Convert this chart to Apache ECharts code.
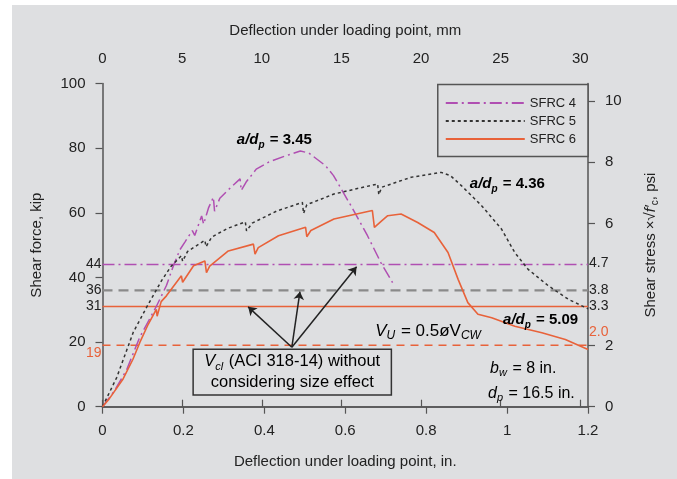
<!DOCTYPE html>
<html>
<head>
<meta charset="utf-8">
<script src="https://cdn.jsdelivr.net/npm/echarts@6/dist/echarts.min.js"></script>
<style>
  html, body { margin: 0; padding: 0; background: #fff; }
  #bg { position: absolute; left: 12px; top: 5px; right: 0; bottom: 0; background: #dedfe1; }
  #chart { position: absolute; left: 0; top: 0; width: 677px; height: 479px; }
</style>
</head>
<body>
<div id="bg"></div>
<div id="chart"></div>
<script>
// load-deflection curves, [deflection in., shear kip]
const sfrc4 = [[0,0],[0.03,5],[0.06,11.5],[0.092,21.5],[0.133,31],[0.158,37.5],[0.175,43.5],[0.191,48.5],[0.204,51],
  [0.222,54.5],[0.228,53],[0.245,59],[0.25,56.5],[0.262,61.5],[0.274,64.8],[0.277,60.5],[0.29,64.5],[0.31,67],
  [0.34,70.5],[0.343,66.9],[0.355,69.5],[0.38,73.5],[0.411,75.7],[0.45,77.5],[0.489,79.1],[0.51,78.5],[0.551,74.6],
  [0.571,71.5],[0.614,62.2],[0.655,52.9],[0.688,44.6],[0.717,38.4]];
const sfrc5 = [[0,0],[0.035,9],[0.076,23],[0.11,31],[0.146,39],[0.17,43.5],[0.195,46.7],[0.198,45],[0.21,48],
  [0.253,51.5],[0.256,49.5],[0.27,52.5],[0.31,55.2],[0.353,57.2],[0.356,54.4],[0.37,56.8],[0.43,60.5],[0.494,63.2],
  [0.497,59.8],[0.505,62.5],[0.572,65.8],[0.63,67.5],[0.68,68.9],[0.683,65.6],[0.69,67.9],[0.763,71],[0.837,72.5],
  [0.86,71.5],[0.887,68.4],[0.937,62.2],[0.986,55],[1.019,47.7],[1.052,42.5],[1.102,37.4],[1.152,33.2],[1.2,30.3]];
const sfrc6 = [[0,0],[0.017,2.5],[0.05,8.4],[0.075,14.6],[0.092,19.8],[0.113,25.5],[0.133,30.1],[0.135,28],[0.145,32.5],
  [0.158,34.3],[0.195,40.5],[0.198,38.5],[0.225,43.6],[0.253,45.1],[0.257,41.5],[0.265,43.5],[0.311,48.2],[0.373,50.3],
  [0.377,47.2],[0.385,49.2],[0.435,52.9],[0.502,55.5],[0.505,52.6],[0.515,54.5],[0.572,58.1],[0.667,60.7],[0.672,55.5],
  [0.69,57.5],[0.705,59.1],[0.738,59.6],[0.779,57],[0.82,53.9],[0.854,47.7],[0.879,39.4],[0.903,32.2],[0.928,28.6],
  [0.962,27.5],[1.019,24.9],[1.086,22.9],[1.144,20.8],[1.2,17.7]];

// horizontal levels (kip) and matching stress marks
const vci4 = 44, vci5 = 36, vci6 = 31, vu6 = 19;
const leftTicks = [0, 20, 40, 60, 80, 100];
const leftMarks = [44, 36, 31, 19];
const rightTicks = [0, 2, 6, 8, 10];
const rightMarks = [4.7, 3.8, 3.3, 2.0];
const mmTicks = [0, 5, 10, 15, 20, 25, 30];

// arrows from the note box to the V_ci lines
const arrowFrom = [0.468, 18.4];
const arrowTo = [[0.36, 30.9], [0.488, 35.6], [0.628, 43.3]];

const purple = '#b04fb2', orange = '#e8623a', dark = '#222', axisCol = '#555';
const font = 'Liberation Sans, Arial, sans-serif';

const chart = echarts.init(document.getElementById('chart'));

function axisBase() {
  return {
    axisLine: { show: true, lineStyle: { color: axisCol, width: 1.5 } },
    axisTick: { show: true, length: 7, lineStyle: { color: axisCol, width: 1.2 } },
    axisLabel: { color: dark, fontSize: 15, fontFamily: font, margin: 17 },
    splitLine: { show: false },
    nameTextStyle: { color: dark, fontSize: 15, fontFamily: font }
  };
}

function flat(name, y, color, type, width) {
  return {
    name: name, type: 'line', symbol: 'none', silent: true,
    data: [[0, y], [1.2, y]],
    lineStyle: { color: color, type: type, width: width }
  };
}

const option = {
  animation: false,
  backgroundColor: 'transparent',
  textStyle: { fontFamily: font },
  grid: { left: 102.5, right: 89, top: 83.5, bottom: 72.3, containLabel: false },
  legend: {
    data: ['SFRC 4', 'SFRC 5', 'SFRC 6'],
    orient: 'vertical', right: 89, top: 84.5,
    itemWidth: 79, itemHeight: 14, itemGap: 5,
    padding: [12, 12, 11, 7],
    borderColor: axisCol, borderWidth: 1.5, backgroundColor: '#dedfe1',
    itemStyle: { opacity: 0 },
    textStyle: { color: dark, fontSize: 13, fontFamily: font }
  },
  xAxis: [
    Object.assign(axisBase(), {
      type: 'value', min: 0, max: 1.2, interval: 0.2, position: 'bottom',
      name: 'Deflection under loading point, in.', nameLocation: 'middle', nameGap: 48
    }),
    Object.assign(axisBase(), {
      type: 'value', min: 0, max: 30.48, interval: 5, position: 'top',
      name: 'Deflection under loading point, mm', nameLocation: 'middle', nameGap: 45,
      axisTick: { show: true, length: 7, customValues: mmTicks, lineStyle: { color: axisCol, width: 1.2 } },
      axisLabel: { color: dark, fontSize: 15, fontFamily: font, margin: 17, customValues: mmTicks }
    })
  ],
  yAxis: [
    Object.assign(axisBase(), {
      type: 'value', min: 0, max: 100, interval: 20, position: 'left',
      name: 'Shear force, kip', nameLocation: 'middle', nameGap: 58, nameRotate: 90,
      axisLabel: { color: dark, fontSize: 15, fontFamily: font, margin: 17, customValues: leftTicks }
    }),
    {
      type: 'value', min: 0, max: 100, position: 'left',
      axisLine: { show: false }, axisTick: { show: false }, splitLine: { show: false },
      axisLabel: {
        margin: 1, fontSize: 14, fontFamily: font, color: dark, customValues: leftMarks,
        formatter: v => v === vu6 ? '{o|' + v + '}' : String(v),
        rich: { o: { color: orange, fontSize: 14, fontFamily: font, padding: [15, 0, 0, 0] } }
      }
    },
    Object.assign(axisBase(), {
      type: 'value', min: 0, max: 10.58, position: 'right',
      name: 'Shear stress ×√{f|f′}{c|c}, psi', nameLocation: 'middle', nameGap: 54, nameRotate: 90,
      nameTextStyle: {
        color: dark, fontSize: 15, fontFamily: font,
        rich: { f: { fontSize: 15, fontStyle: 'italic', color: dark, fontFamily: font },
                c: { fontSize: 10, color: dark, fontFamily: font, padding: [8, 0, 0, 0] } }
      },
      axisTick: { show: true, length: 7, customValues: rightTicks, lineStyle: { color: axisCol, width: 1.2 } },
      axisLabel: { color: dark, fontSize: 15, fontFamily: font, margin: 17, customValues: rightTicks }
    }),
    {
      type: 'value', min: 0, max: 10.58, position: 'right',
      axisLine: { show: false }, axisTick: { show: false }, splitLine: { show: false },
      axisLabel: {
        margin: 1, fontSize: 14, fontFamily: font, color: dark, customValues: rightMarks,
        formatter: v => v === 2 ? '{o|2.0}' : v.toFixed(1),
        rich: { o: { color: orange, fontSize: 14, fontFamily: font, padding: [0, 0, 27, 0] } }
      }
    }
  ],
  series: [
    flat('lvl44', vci4, purple, [12, 4, 2, 4], 1.5),
    flat('lvl36', vci5, '#8a8a8a', [10, 6], 2.2),
    flat('lvl31', vci6, orange, 'solid', 1.6),
    flat('lvl19', vu6, orange, [8, 6], 1.5),
    { name: 'SFRC 4', type: 'line', symbol: 'none', data: sfrc4,
      lineStyle: { color: purple, type: [12, 4, 2, 4], width: 1.5 }, itemStyle: { color: purple } },
    { name: 'SFRC 5', type: 'line', symbol: 'none', data: sfrc5,
      lineStyle: { color: '#333', type: [3, 3], width: 1.5 }, itemStyle: { color: '#333' } },
    { name: 'SFRC 6', type: 'line', symbol: 'none', data: sfrc6,
      lineStyle: { color: orange, width: 1.6 }, itemStyle: { color: orange } },
    { name: 'arrows', type: 'line', data: [], silent: true,
      markLine: {
        silent: true, symbol: ['none', 'arrow'], symbolSize: 8,
        label: { show: false },
        lineStyle: { color: dark, type: 'solid', width: 1.5 },
        data: arrowTo.map(p => [{ coord: arrowFrom }, { coord: p }])
      } }
  ]
};
chart.setOption(option);

// text notes placed at data positions
const px = p => chart.convertToPixel({ xAxisIndex: 0, yAxisIndex: 0 }, p);
function sub(color, bold, size) {
  const w = bold ? 'bold' : 'normal';
  const sm = Math.round(size * 0.68);
  return {
    i: { fontSize: size, fontStyle: 'italic', fontWeight: w, color: color, fontFamily: font, lineHeight: 21 },
    t: { fontSize: size, fontWeight: w, color: color, fontFamily: font, lineHeight: 21 },
    s: { fontSize: sm, fontStyle: 'italic', fontWeight: w, color: color, fontFamily: font, lineHeight: 21, verticalAlign: 'bottom', padding: [0, 1, 0, 0] }
  };
}
function note(p, text, color, bold, size) {
  const q = px(p);
  return { type: 'text', x: q[0], y: q[1], z: 50,
    style: { text: text, rich: sub(color, bold, size), align: 'left', verticalAlign: 'middle' } };
}
const boxA = px([0.224, 17.8]), boxB = px([0.714, 3.6]);
chart.setOption({
  graphic: [
    note([0.332, 82.5], '{i|a/d}{s|p}{t| = 3.45}', purple, true, 15),
    note([0.908, 69.1], '{i|a/d}{s|p}{t| = 4.36}', dark, true, 15),
    note([0.99, 26.8], '{i|a/d}{s|p}{t| = 5.09}', orange, true, 15),
    note([0.674, 23.4], '{i|V}{s|U}{t| = 0.5øV}{s|CW}', orange, false, 17),
    note([0.958, 11.9], '{i|b}{s|w}{t| = 8 in.}', dark, false, 16),
    note([0.953, 4.2], '{i|d}{s|p}{t| = 16.5 in.}', dark, false, 16),
    { type: 'rect', z: 40,
      shape: { x: boxA[0], y: boxA[1], width: boxB[0] - boxA[0], height: boxB[1] - boxA[1] },
      style: { fill: '#dedfe1', stroke: '#333', lineWidth: 1.5 } },
    { type: 'text', z: 50, x: (boxA[0] + boxB[0]) / 2, y: (boxA[1] + boxB[1]) / 2,
      style: { text: '{i|V}{s|cl}{t| (ACI 318-14) without}\n{t|considering size effect}',
        rich: sub(dark, false, 16.5), align: 'center', verticalAlign: 'middle' } }
  ]
});
</script>
</body>
</html>
